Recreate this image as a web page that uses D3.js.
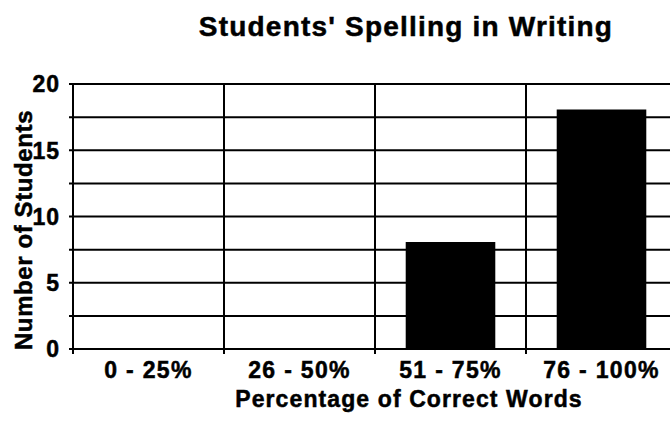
<!DOCTYPE html>
<html>
<head>
<meta charset="utf-8">
<script src="https://cdn.jsdelivr.net/npm/d3@7"></script>
<style>
  html, body { margin: 0; padding: 0; background: #fff; }
  svg { display: block; }
  text { font-family: "Liberation Sans", Arial, sans-serif; font-weight: bold; fill: #000; stroke: #000; stroke-width: 0.5px; }
</style>
</head>
<body>
<svg id="chart" width="670" height="422"></svg>
<script>
const categories = ["0 - 25%", "26 - 50%", "51 - 75%", "76 - 100%"];
const values = [0, 0, 8, 18];
const yTickLabels = [0, 5, 10, 15, 20];
const gridValues = [0, 2.5, 5, 7.5, 10, 12.5, 15, 17.5, 20];
const titleText = "Students' Spelling in Writing";
const xTitleText = "Percentage of Correct Words";
const yTitleText = "Number of Students";

const svg = d3.select("#chart");
const margin = { left: 73, top: 84, right: -7, bottom: 73 };
const W = 670, H = 422;
const x0 = margin.left, x1 = W - margin.right;   // plot extends past the window edge
const yTop = margin.top, yBot = H - margin.bottom;

const x = d3.scaleBand().domain(categories).range([x0, x1]).paddingInner(0).paddingOuter(0);
const y = d3.scaleLinear().domain([0, 20]).range([yBot, yTop]);

// horizontal gridlines
svg.append("g").selectAll("line").data(gridValues).join("line")
  .attr("x1", x0 - 4).attr("x2", x1)
  .attr("y1", d => y(d)).attr("y2", d => y(d))
  .attr("stroke", "#000").attr("stroke-width", 2);

// vertical category lines (band boundaries)
const bounds = categories.map(c => x(c)).concat([x1]);
svg.append("g").selectAll("line").data(bounds).join("line")
  .attr("x1", d => d).attr("x2", d => d)
  .attr("y1", yTop).attr("y2", yBot + 5)
  .attr("stroke", "#000").attr("stroke-width", 2);

// bars
const barFrac = 0.58;
svg.append("g").selectAll("rect").data(values).join("rect")
  .attr("x", (d, i) => x(categories[i]) + x.bandwidth() * (1 - barFrac) / 2)
  .attr("width", x.bandwidth() * barFrac)
  .attr("y", d => y(d))
  .attr("height", d => yBot - y(d))
  .attr("fill", "#000").attr("stroke", "#000").attr("stroke-width", 2);

// y tick labels
svg.append("g").selectAll("text").data(yTickLabels).join("text")
  .attr("x", 60).attr("y", d => y(d))
  .attr("dy", "0.36em")
  .attr("text-anchor", "end")
  .style("font-size", "23px").style("letter-spacing", "1px")
  .text(d => d);

// x tick labels
svg.append("g").selectAll("text").data(categories).join("text")
  .attr("x", d => x(d) + x.bandwidth() / 2)
  .attr("y", 378)
  .attr("text-anchor", "middle")
  .style("font-size", "23px").style("letter-spacing", "1.3px")
  .text(d => d);

// title
svg.append("text")
  .attr("x", 406).attr("y", 36)
  .attr("text-anchor", "middle")
  .style("font-size", "28px").style("letter-spacing", "1.2px")
  .text(titleText);

// x axis title
svg.append("text")
  .attr("x", 409).attr("y", 407)
  .attr("text-anchor", "middle")
  .style("font-size", "23px").style("letter-spacing", "1.1px")
  .text(xTitleText);

// y axis title
svg.append("text")
  .attr("transform", "translate(32,230) rotate(-90)")
  .attr("text-anchor", "middle")
  .style("font-size", "24px").style("letter-spacing", "0.6px")
  .text(yTitleText);
</script>
</body>
</html>
